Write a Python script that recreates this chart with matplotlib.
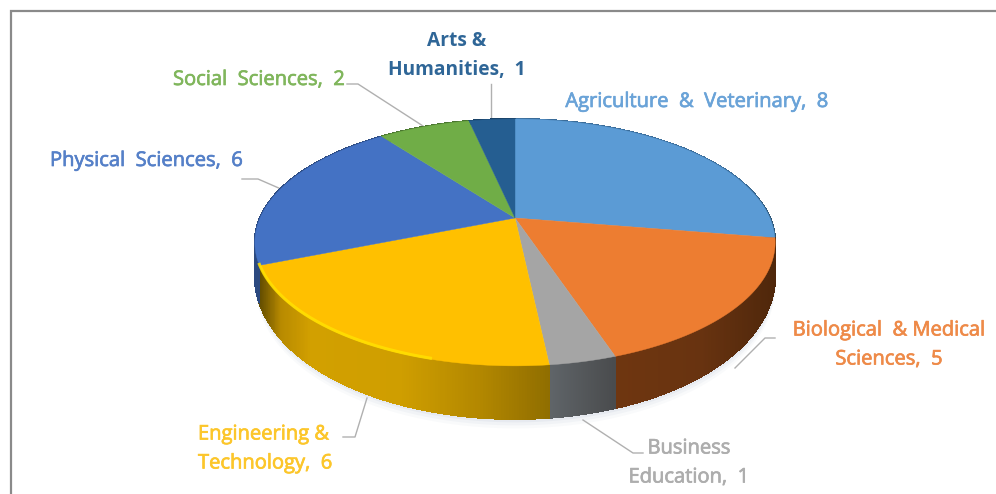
import numpy as np
import matplotlib
matplotlib.use("Agg")
import matplotlib.pyplot as plt
import matplotlib.patheffects as pe
from matplotlib.collections import PolyCollection
from matplotlib.colors import to_rgb

plt.rcParams.update({'font.family': 'Open Sans'})

# Data (clockwise from 12 o'clock)
categories = ["Agriculture & Veterinary", "Biological & Medical Sciences", "Business Education",
              "Engineering & Technology", "Physical Sciences", "Social Sciences", "Arts & Humanities"]
values = [8, 5, 1, 6, 6, 2, 1]

# Style
TOP_COLORS = ['#5B9BD5', '#ED7D31', '#A5A5A5', '#FFC000', '#4472C4', '#70AD47', '#255E91']
# side gradient stops per slice, (screen x, colour)
SIDE_STOPS = [
    [(740, '#3a6c99'), (775, '#2c5270')],
    [(612, '#6f3610'), (700, '#683310'), (775, '#4f270b')],
    [(550, '#5f6468'), (612, '#4a4c4e')],
    [(258, '#5f4a00'), (280, '#b88a00'), (310, '#d2a000'), (400, '#cf9e00'), (480, '#b28700'), (550, '#8f6d00')],
    [(255, '#2c4a80'), (262, '#2c4a80')],
    [(385, '#4a7530'), (470, '#4a7530')],
    [(470, '#1a4268'), (515, '#1a4268')],
]
TEXT_COLORS = ['#6aa3d8', '#ee8a48', '#adadad', '#fcc62a', '#5580c8', '#80b65c', '#2f6697']

# Labels: text, x, y, horizontal alignment, font size
LABELS = [
    ("Agriculture  &  Veterinary,  8", 697, 102, 'center', 14.5),
    ("Biological  & Medical\nSciences,  5", 889, 345, 'center', 14.5),
    ("Business\nEducation,  1", 689, 463, 'center', 14.5),
    ("Engineering &\nTechnology,  6", 198, 449, 'left', 14.5),
    ("Physical  Sciences,  6", 50, 161, 'left', 14.5),
    ("Social  Sciences,  2", 173, 80, 'left', 14.5),
    ("Arts &\nHumanities,  1", 457, 56, 'center', 13.8),
]
LEADERS = [
    [(491, 84), (491, 120)],
    [(347, 84), (358, 84), (423, 126)],
    [(242, 179), (258, 179), (281, 189)],
    [(775, 338), (765, 338), (735, 368)],
    [(583, 420), (633, 453), (643, 453)],
    [(367, 398), (355, 437), (343, 437)],
]

# Pie geometry in image pixels, perspective view of a circle
CX, CY = 515, 218
RX, RY = 255, 118.6
PERSP = 0.198


def project(theta):
    u, v = np.sin(theta), np.cos(theta)
    w = 1 + PERSP * v
    return CX + RX * u / w, CY - RY * v / w


def depth(theta):
    return 28 - 25 * np.cos(theta)


def stops_to_rgb(stops, x):
    xs = [s[0] for s in stops]
    rgb = np.array([to_rgb(s[1]) for s in stops])
    return np.column_stack([np.interp(x, xs, rgb[:, i]) for i in range(3)])


fig = plt.figure(figsize=(9.96, 4.94), dpi=100)
ax = fig.add_axes([0, 0, 1, 1])
ax.set_xlim(0, 996)
ax.set_ylim(494, 0)
ax.axis('off')

# frame of the chart area
ax.plot([11, 11, 996], [494, 11, 11], color='#8a8a8a', lw=1.6, solid_joinstyle='miter')

edges = np.cumsum([0] + values) / sum(values) * 2 * np.pi

# soft shadow below the pie
all_t = np.linspace(np.pi / 2, 3 * np.pi / 2, 200)
sx, sy = project(all_t)
for off, alpha in zip([9, 6, 3], [0.05, 0.07, 0.10]):
    ax.fill_between(sx, sy + depth(all_t), sy + depth(all_t) + off, color='#8fa3bd', alpha=alpha, lw=0, zorder=1)

# sides as thin strips, so the shading can follow screen x
for start, end, stops in zip(edges[:-1], edges[1:], SIDE_STOPS):
    t = np.linspace(start, end, 160)
    x, y = project(t)
    d = depth(t)
    quads = [[(x[i], y[i]), (x[i + 1], y[i + 1]), (x[i + 1], y[i + 1] + d[i + 1]), (x[i], y[i] + d[i])]
             for i in range(len(t) - 1)]
    cols = stops_to_rgb(stops, (x[:-1] + x[1:]) / 2)
    ax.add_collection(PolyCollection(quads, facecolors=cols, edgecolors=cols, linewidths=0.8,
                                     antialiaseds=False, zorder=2))

# top face
for start, end, col in zip(edges[:-1], edges[1:], TOP_COLORS):
    t = np.linspace(start, end, 200)
    x, y = project(t)
    ax.fill(np.r_[CX, x], np.r_[CY, y], color=col, lw=0.3, zorder=3)

# bevel highlight on the yellow rim
t = np.linspace(edges[3] + 0.38, edges[4], 200)
x, y = project(t)
ax.plot(x, y - 1, color='#FFE100', lw=2.2, zorder=4, alpha=0.85)

for pts in LEADERS:
    px, py = zip(*pts)
    ax.plot(px, py, color='#b0b0b0', lw=1, zorder=1)

for (txt, x, y, ha, size), col in zip(LABELS, TEXT_COLORS):
    weight = 'bold' if txt.startswith("Arts") else 'normal'
    t_obj = ax.text(x, y, txt, color=col, fontsize=size, ha=ha, va='center', weight=weight,
                    linespacing=1.6, zorder=5)
    if weight == 'normal':
        t_obj.set_path_effects([pe.withStroke(linewidth=0.5, foreground=col)])

fig.savefig("out.png", dpi=100)
